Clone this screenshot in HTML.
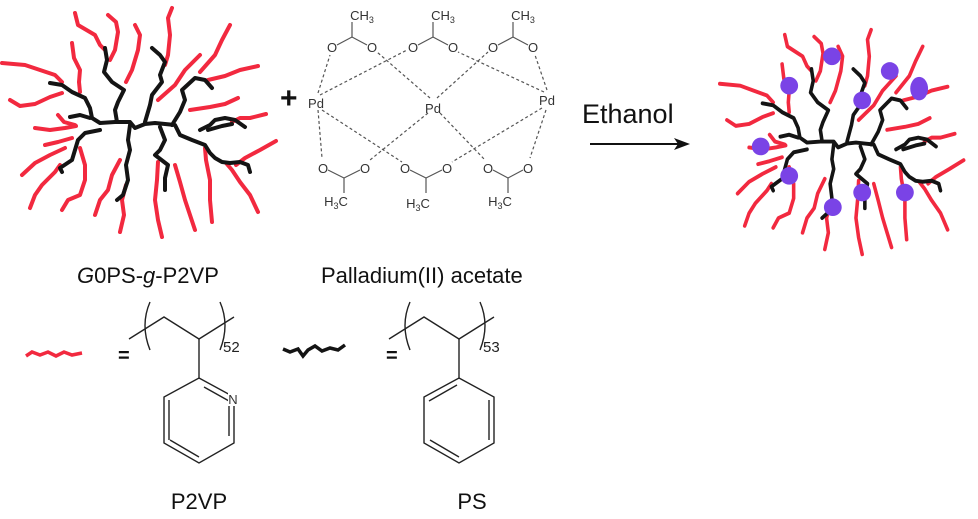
<!DOCTYPE html>
<html><head><meta charset="utf-8"><style>
html,body{margin:0;padding:0;background:#fff;}
svg{display:block;}
text{font-family:"Liberation Sans",sans-serif;}
</style></head><body>
<svg width="978" height="519" viewBox="0 0 978 519" xmlns="http://www.w3.org/2000/svg">
<defs>
<g id="star" fill="none" stroke-linecap="round" stroke-linejoin="round">
<g stroke="#f2293f" stroke-width="4">
<polyline points="75,13 78,25 95,35 100,45 105,50"/>
<polyline points="108,15 116,22 118,32 115,50 110,60"/>
<polyline points="135,25 140,35 138,50 132,70 126,82"/>
<polyline points="172,8 168,18 170,35 168,55 165,65"/>
<polyline points="230,25 222,40 215,55 200,72"/>
<polyline points="200,55 185,70 175,85 158,100"/>
<polyline points="258,66 240,70 225,76 208,80"/>
<polyline points="2,63 25,65 40,70 55,75 62,82"/>
<polyline points="72,43 74,58 80,70 79,82 80,92"/>
<polyline points="10,100 20,106 35,104 50,97 62,93"/>
<polyline points="58,115 64,122 75,125"/>
<polyline points="35,128 50,130 65,128 76,126"/>
<polyline points="45,145 58,142 72,138"/>
<polyline points="22,175 35,163 50,155 65,148"/>
<polyline points="30,208 35,195 42,185 55,172 60,165"/>
<polyline points="62,210 68,200 80,195 85,180 85,165 80,148"/>
<polyline points="95,215 100,200 108,190 112,175 120,160"/>
<polyline points="120,232 124,215 122,200 126,185"/>
<polyline points="162,237 158,220 155,200 157,180 158,162"/>
<polyline points="195,230 190,215 185,200 180,182 175,165"/>
<polyline points="212,222 210,200 210,180 206,160 205,148"/>
<polyline points="258,212 250,195 240,182 232,170 226,163"/>
<polyline points="276,141 260,150 245,158 236,165"/>
<polyline points="266,114 250,118 240,118 232,122"/>
<polyline points="238,98 225,104 210,107 190,110"/>
</g>
<g stroke="#141414" stroke-width="4">
<polyline points="50,83 62,85 72,92 85,98 90,108 92,118 100,123 115,122 130,122 135,128 145,124 155,123 165,124 175,125 180,135 192,140 205,145 210,153 215,158 222,162 230,163 240,162 248,165 250,172"/>
<polyline points="105,48 107,60 104,72 112,82 124,90 118,102 115,110 117,122"/>
<polyline points="152,48 160,55 165,62 160,75 162,82 152,95 150,105 145,122"/>
<polyline points="130,125 128,140 130,150 126,165 128,180 123,195 117,200"/>
<polyline points="160,127 165,140 160,150 155,155 168,165 165,178 165,190"/>
<polyline points="100,130 85,133 78,140 75,150 72,160 60,168 62,172"/>
<polyline points="70,117 80,115 90,118"/>
<polyline points="172,125 180,112 185,100 182,90 195,78 205,80 212,88"/>
<polyline points="200,130 210,125 215,120 225,118 235,120 245,127"/>
<polyline points="208,130 222,126 232,124"/>
</g>
</g>
</defs>
<use href="#star" x="0" y="0"/>
<g transform="translate(718,22) scale(0.89,0.98)">
<use href="#star"/>
<g fill="#7a43e6">
<ellipse cx="128" cy="35" rx="10" ry="9"/>
<ellipse cx="80" cy="65" rx="10" ry="9"/>
<ellipse cx="193" cy="50" rx="10" ry="9"/>
<ellipse cx="162" cy="80" rx="10" ry="9"/>
<ellipse cx="226" cy="68" rx="10" ry="12"/>
<ellipse cx="48" cy="127" rx="10" ry="9"/>
<ellipse cx="80" cy="157" rx="10" ry="9"/>
<ellipse cx="129" cy="189" rx="10" ry="9"/>
<ellipse cx="162" cy="174" rx="10" ry="9"/>
<ellipse cx="210" cy="174" rx="10" ry="9"/>
</g>
</g>
<!-- plus -->
<text x="280" y="108" font-size="30" font-weight="bold" fill="#111">+</text>
<!-- Pd acetate -->
<g stroke="#555" stroke-width="1.2" stroke-dasharray="3,2.5" fill="none">
<line x1="318" y1="93" x2="330" y2="55"/>
<line x1="320" y1="95" x2="407" y2="50"/>
<line x1="318" y1="110" x2="322" y2="158"/>
<line x1="322" y1="110" x2="402" y2="162"/>
<line x1="430" y1="98" x2="377" y2="52"/>
<line x1="437" y1="98" x2="488" y2="52"/>
<line x1="428" y1="113" x2="370" y2="160"/>
<line x1="440" y1="113" x2="485" y2="160"/>
<line x1="544" y1="92" x2="458" y2="52"/>
<line x1="547" y1="90" x2="535" y2="55"/>
<line x1="542" y1="108" x2="452" y2="162"/>
<line x1="546" y1="110" x2="530" y2="158"/>
</g>
<g stroke="#555" stroke-width="1.2" fill="none">
<polyline points="337,45 352,37 367,45"/><line x1="352" y1="37" x2="352" y2="22"/>
<polyline points="418,45 433,37 448,45"/><line x1="433" y1="37" x2="433" y2="22"/>
<polyline points="498,45 513,37 528,45"/><line x1="513" y1="37" x2="513" y2="22"/>
<polyline points="328,170 344,178 360,170"/><line x1="344" y1="178" x2="344" y2="193"/>
<polyline points="410,170 426,178 442,170"/><line x1="426" y1="178" x2="426" y2="193"/>
<polyline points="493,170 508,178 523,170"/><line x1="508" y1="178" x2="508" y2="193"/>
</g>
<g font-size="13" fill="#333" text-anchor="middle">
<text x="316" y="108">Pd</text><text x="433" y="113">Pd</text><text x="547" y="105">Pd</text>
<text x="332" y="52">O</text><text x="372" y="52">O</text>
<text x="413" y="52">O</text><text x="453" y="52">O</text>
<text x="493" y="52">O</text><text x="533" y="52">O</text>
<text x="323" y="173">O</text><text x="365" y="173">O</text>
<text x="405" y="173">O</text><text x="447" y="173">O</text>
<text x="488" y="173">O</text><text x="528" y="173">O</text>
<text x="362" y="20">CH<tspan font-size="9" dy="3">3</tspan></text>
<text x="443" y="20">CH<tspan font-size="9" dy="3">3</tspan></text>
<text x="523" y="20">CH<tspan font-size="9" dy="3">3</tspan></text>
<text x="336" y="206">H<tspan font-size="9" dy="3">3</tspan><tspan dy="-3">C</tspan></text>
<text x="418" y="208">H<tspan font-size="9" dy="3">3</tspan><tspan dy="-3">C</tspan></text>
<text x="500" y="206">H<tspan font-size="9" dy="3">3</tspan><tspan dy="-3">C</tspan></text>
</g>
<!-- Ethanol arrow -->
<text x="582" y="123" font-size="27" fill="#111">Ethanol</text>
<line x1="590" y1="144" x2="680" y2="144" stroke="#111" stroke-width="2"/>
<polygon points="690,144 674,138 678,144 674,150" fill="#111"/>
<!-- labels -->
<text x="77" y="283" font-size="22" fill="#111"><tspan font-style="italic">G</tspan>0PS-<tspan font-style="italic">g</tspan>-P2VP</text>
<text x="321" y="283" font-size="22" fill="#111">Palladium(II) acetate</text>
<!-- legend -->
<polyline points="26,356 32,352 40,355 48,352 56,356 64,352 72,355 82,353" fill="none" stroke="#f2293f" stroke-width="3.5"/>
<text x="118" y="362" font-size="20" font-weight="bold" fill="#111">=</text>
<polyline points="283,349 290,352 298,349 303,356 308,350 315,346 322,351 330,348 338,350 345,345" fill="none" stroke="#141414" stroke-width="3.5"/>
<text x="386" y="362" font-size="20" font-weight="bold" fill="#111">=</text>
<g stroke="#222" stroke-width="1.4" fill="none">
<polyline points="129,339 164,317 199,339 234,317"/>
<path d="M150,302 Q140,325 150,350"/><path d="M220,302 Q230,325 220,350"/>
<line x1="199" y1="339" x2="199" y2="378"/>
<polygon points="199,378 234,397 234,443 199,463 164,443 164,397"/>
<line x1="204" y1="387" x2="229" y2="401" /><line x1="229" y1="404" x2="229" y2="436"/>
<line x1="199" y1="457" x2="170" y2="440"/><line x1="169" y1="440" x2="169" y2="400"/>
<polyline points="389,339 424,317 459,339 494,317"/>
<path d="M410,302 Q400,325 410,350"/><path d="M480,302 Q490,325 480,350"/>
<line x1="459" y1="339" x2="459" y2="378"/>
<polygon points="459,378 494,397 494,443 459,463 424,443 424,397"/>
<line x1="457" y1="385" x2="429" y2="401"/><line x1="489" y1="400" x2="489" y2="440"/>
<line x1="459" y1="457" x2="430" y2="440"/>
</g>
<rect x="228" y="392" width="10" height="14" fill="#fff"/>
<text x="233" y="404" font-size="13" fill="#333" text-anchor="middle">N</text>
<text x="223" y="352" font-size="15" font-family="Liberation Serif" fill="#222">52</text>
<text x="483" y="352" font-size="15" font-family="Liberation Serif" fill="#222">53</text>
<text x="199" y="509" font-size="22" fill="#111" text-anchor="middle">P2VP</text>
<text x="472" y="509" font-size="22" fill="#111" text-anchor="middle">PS</text>
</svg>
</body></html>
